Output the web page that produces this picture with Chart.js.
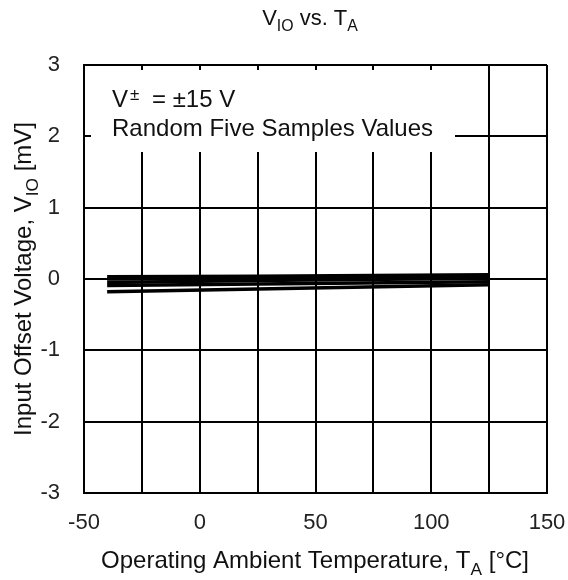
<!DOCTYPE html>
<html>
<head>
<meta charset="utf-8">
<script src="https://cdn.jsdelivr.net/npm/chart.js@4/dist/chart.umd.min.js"></script>
<style>
  html, body { margin: 0; padding: 0; background: #fff; }
  #wrap { width: 568px; height: 580px; }
</style>
</head>
<body>
<div id="wrap"><canvas id="vio-chart" width="568" height="580"></canvas></div>
<script>
// temperatures (°C) at which each sample was read
var temps = [-40, 25, 125];
// input offset voltage (mV) for the five samples
var sample1 = [0.03, 0.04, 0.06];
var sample2 = [0.00, 0.01, 0.03];
var sample3 = [-0.05, -0.02, 0.01];
var sample4 = [-0.09, -0.07, -0.04];
var sample5 = [-0.18, -0.14, -0.08];
var xTicks = [-50, 0, 50, 100, 150];
var yTicks = [-3, -2, -1, 0, 1, 2, 3];

var samples = [sample1, sample2, sample3, sample4, sample5];
var font = '"Liberation Sans", Arial, sans-serif';

function pts(vals) {
	return vals.map(function(v, i) { return { x: temps[i], y: v }; });
}

// text with a subscript part, drawn left to right from x
function subText(ctx, parts, x, y, size) {
	parts.forEach(function(p) {
		var s = p.sub ? size * 0.72 : size;
		ctx.font = s + 'px ' + font;
		ctx.fillText(p.t, x, y + (p.sub ? size * 0.28 : 0));
		x += ctx.measureText(p.t).width;
	});
}
function partsWidth(ctx, parts, size) {
	var w = 0;
	parts.forEach(function(p) {
		ctx.font = (p.sub ? size * 0.72 : size) + 'px ' + font;
		w += ctx.measureText(p.t).width;
	});
	return w;
}

var labels = {
	id: 'labels',
	beforeDatasetsDraw: function(chart) {
		var ctx = chart.ctx;
		// note box over the grid
		ctx.save();
		ctx.fillStyle = '#fff';
		ctx.fillRect(91, 70, 364, 82);
		ctx.fillStyle = '#111';
		ctx.textBaseline = 'alphabetic';
		ctx.font = '24px ' + font;
		ctx.fillText('V', 112, 107);
		ctx.font = '17px ' + font;
		ctx.fillText('\u00b1', 130, 100);
		ctx.font = '24px ' + font;
		ctx.fillText('= \u00b115 V', 152, 107);
		ctx.fillText('Random Five Samples Values', 112, 136);
		ctx.restore();
	},
	afterDraw: function(chart) {
		var ctx = chart.ctx;
		ctx.save();
		ctx.fillStyle = '#111';
		ctx.textBaseline = 'alphabetic';
		// title
		var title = [{t: 'V'}, {t: 'IO', sub: true}, {t: ' vs. '}, {t: 'T'}, {t: 'A', sub: true}];
		subText(ctx, title, 310 - partsWidth(ctx, title, 22) / 2, 25, 22);
		// x axis title
		var xt = [{t: 'Operating Ambient Temperature, T'}, {t: 'A', sub: true}, {t: ' [\u00b0C]'}];
		subText(ctx, xt, 315 - partsWidth(ctx, xt, 24) / 2, 568, 24);
		// y axis title
		var yt = [{t: 'Input Offset Voltage, V'}, {t: 'IO', sub: true}, {t: ' [mV]'}];
		ctx.translate(31, 279);
		ctx.rotate(-Math.PI / 2);
		subText(ctx, yt, -partsWidth(ctx, yt, 24) / 2, 0, 24);
		ctx.restore();
	}
};

new Chart(document.getElementById('vio-chart').getContext('2d'), {
	type: 'line',
	data: {
		datasets: samples.map(function(s, i) {
			return {
				label: 'Sample ' + (i + 1),
				data: pts(s),
				borderColor: '#000',
				borderWidth: 3.5,
				pointRadius: 0,
				tension: 0
			};
		})
	},
	options: {
		responsive: false,
		animation: false,
		layout: { padding: { top: 65, right: 21, left: 0, bottom: 0 } },
		plugins: { legend: { display: false }, tooltip: { enabled: false } },
		scales: {
			x: {
				type: 'linear',
				min: -50, max: 150,
				afterBuildTicks: function(axis) {
					var t = [];
					for (var v = -50; v <= 150; v += 25) t.push({ value: v });
					axis.ticks = t;
				},
				afterFit: function(axis) {
					axis.height = 87;
					axis.paddingLeft = 0;
					axis.paddingRight = 0;
				},
				grid: { color: '#000', lineWidth: 2, drawTicks: false },
				border: { color: '#000', width: 2 },
				ticks: {
					color: '#222',
					font: { family: font, size: 22 },
					padding: 17,
					maxRotation: 0,
					autoSkip: false,
					callback: function(v) { return xTicks.indexOf(v) >= 0 ? v : ''; }
				}
			},
			y: {
				min: -3, max: 3,
				afterBuildTicks: function(axis) {
					axis.ticks = yTicks.map(function(v) { return { value: v }; });
				},
				afterFit: function(axis) {
					axis.width = 84;
					axis.paddingTop = 0;
					axis.paddingBottom = 0;
				},
				grid: { color: '#000', lineWidth: 2, drawTicks: false },
				border: { color: '#000', width: 2 },
				ticks: {
					color: '#222',
					font: { family: font, size: 22 },
					padding: 24
				}
			}
		}
	},
	plugins: [labels]
});
</script>
</body>
</html>
